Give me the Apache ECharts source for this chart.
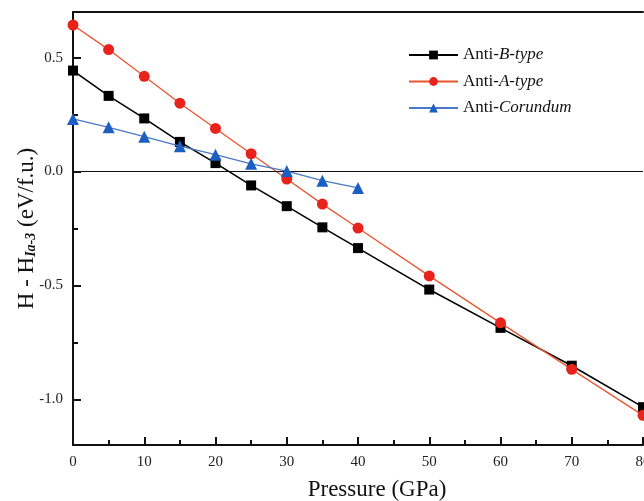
<!DOCTYPE html>
<html>
<head>
<meta charset="utf-8">
<script src="https://cdn.jsdelivr.net/npm/echarts@6/dist/echarts.min.js"></script>
<style>html,body{margin:0;padding:0;background:#fff}#c{width:644px;height:501px}</style>
</head>
<body>
<div id="c"></div>
<script>
const pressure = [0, 5, 10, 15, 20, 25, 30, 35, 40, 50, 60, 70, 80];
const antiBType = [0.443, 0.332, 0.233, 0.130, 0.037, -0.061, -0.152, -0.245, -0.336, -0.518, -0.686, -0.852, -1.034];
const antiAType = [0.643, 0.535, 0.418, 0.300, 0.189, 0.078, -0.033, -0.143, -0.248, -0.458, -0.664, -0.868, -1.070];
const pressureCorundum = [0, 5, 10, 15, 20, 25, 30, 35, 40];
const antiCorundum = [0.231, 0.194, 0.153, 0.111, 0.074, 0.034, 0.002, -0.040, -0.072];
const yMajorTicks = [-1.0, -0.5, 0.0, 0.5];
const yMinorTicks = [-0.75, -0.25, 0.25];
const seriesNames = ['Anti-B-type', 'Anti-A-type', 'Anti-Corundum'];

const pair = (xs, ys) => xs.map((x, i) => [x, ys[i]]);
const FONT = '"Liberation Serif", "DejaVu Serif", serif';
const chart = echarts.init(document.getElementById('c'));
chart.setOption({
  animation: false,
  backgroundColor: '#fff',
  grid: { left: 73, right: 1, top: 12, bottom: 56, containLabel: false, outerBoundsMode: 'none' },
  legend: {
    orient: 'vertical', left: 403, top: 40,
    itemWidth: 49, itemHeight: 11, itemGap: 6.5,
    data: seriesNames,
    textStyle: {
      fontFamily: FONT, fontSize: 17, color: '#111', lineHeight: 20,
      rich: { it: { fontFamily: FONT, fontSize: 17, fontStyle: 'italic', color: '#111', lineHeight: 20 } }
    },
    formatter: function (n) {
      const i = n.indexOf('-');
      return n.slice(0, i + 1) + '{it|' + n.slice(i + 1) + '}';
    }
  },
  xAxis: [{
    type: 'value', min: 0, max: 80, interval: 10, position: 'bottom',
    name: 'Pressure (GPa)', nameLocation: 'middle', nameGap: 33, nameMoveOverlap: false,
    nameTextStyle: { fontFamily: FONT, fontSize: 23, color: '#111', padding: [0, 0, 0, 38] },
    axisLine: { show: true, onZero: false, lineStyle: { color: '#111', width: 2 } },
    axisTick: { show: true, inside: true, length: 8, lineStyle: { color: '#111', width: 2 } },
    minorTick: { show: true, splitNumber: 2, length: 5, lineStyle: { color: '#111', width: 2 } },
    axisLabel: { fontFamily: FONT, fontSize: 15, color: '#222', margin: 10 },
    splitLine: { show: false }
  }, {
    type: 'value', min: 0, max: 80, position: 'top',
    axisLine: { show: true, onZero: false, lineStyle: { color: '#111', width: 2 } },
    axisTick: { show: false }, axisLabel: { show: false }, splitLine: { show: false }
  }],
  yAxis: [{
    type: 'value', min: -1.2, max: 0.7, position: 'left',
    name: 'H - H{sub|Ia-3} (eV/f.u.)', nameLocation: 'middle', nameGap: 35, nameMoveOverlap: false,
    nameTextStyle: {
      fontFamily: FONT, fontSize: 23, color: '#111',
      rich: { sub: { fontFamily: FONT, fontSize: 14, fontStyle: 'italic', fontWeight: 'bold', color: '#111', verticalAlign: 'bottom', padding: [9, 0, 0, 0] } }
    },
    axisLine: { show: true, onZero: false, lineStyle: { color: '#111', width: 2 } },
    axisTick: { show: true, inside: true, length: 8, customValues: yMajorTicks, lineStyle: { color: '#111', width: 2 } },
    axisLabel: { fontFamily: FONT, fontSize: 15, color: '#222', margin: 10, customValues: yMajorTicks,
      formatter: v => v.toFixed(1) },
    splitLine: { show: false }
  }, {
    type: 'value', min: -1.2, max: 0.7, position: 'left', offset: 0,
    axisLine: { show: false, onZero: false },
    axisTick: { show: true, inside: true, length: 5, customValues: yMinorTicks, lineStyle: { color: '#111', width: 2 } },
    axisLabel: { show: false }, splitLine: { show: false }
  }],
  series: [{
    name: seriesNames[0], type: 'line', data: pair(pressure, antiBType),
    symbol: 'rect', symbolSize: 10,
    lineStyle: { color: '#000', width: 1.6 }, itemStyle: { color: '#000' },
    markLine: {
      silent: true, symbol: 'none', label: { show: false },
      lineStyle: { color: '#111', width: 1, type: 'solid' },
      data: [{ yAxis: 0 }]
    },
    z: 3
  }, {
    name: seriesNames[1], type: 'line', data: pair(pressure, antiAType),
    symbol: 'circle', symbolSize: 11,
    lineStyle: { color: '#e8562e', width: 1.3 }, itemStyle: { color: '#e8231c' },
    z: 4
  }, {
    name: seriesNames[2], type: 'line', data: pair(pressureCorundum, antiCorundum),
    symbol: 'triangle', symbolSize: 12,
    lineStyle: { color: '#4a78c6', width: 1.3 }, itemStyle: { color: '#1c5fc0' },
    z: 5
  }]
});
</script>
</body>
</html>
